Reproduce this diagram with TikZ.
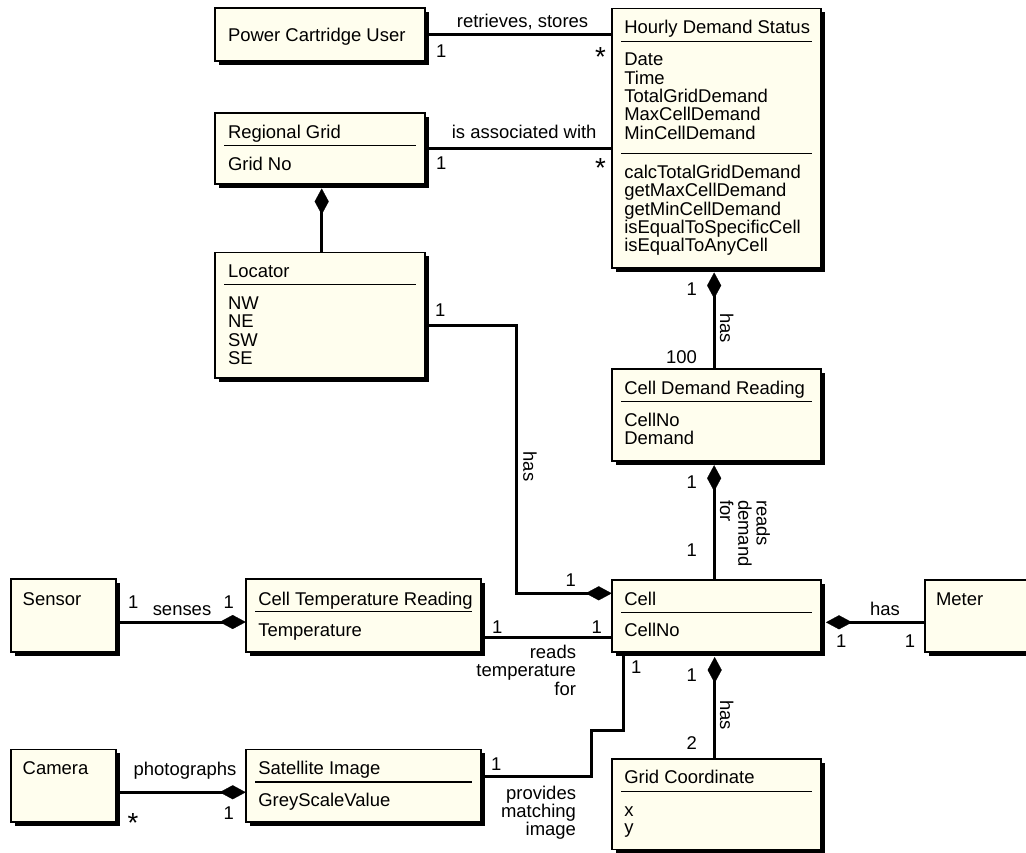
\documentclass[tikz,border=0pt]{standalone}
\usepackage{fontspec}
\setmainfont{Liberation Sans}
\usetikzlibrary{arrows.meta,shadows}
\definecolor{cream}{RGB}{255,254,238}
\newcommand\umlbox[5]{\node[umlbox, minimum width={(#4-#2)*0.5pt}, minimum height={(#5-#3)*0.5pt}] (#1) at (#2,#3) {};}
\newcommand\sepat[2]{\draw[sepline] ([shift={(9.3,#2)}]#1.north west) -- ([shift={(-9,#2)}]#1.north east);}
\tikzset{
  umlbox/.style={draw=black, line width=0.8pt, fill=cream, inner sep=0pt, outer sep=0pt, anchor=north west,
    drop shadow={shadow xshift=2pt, shadow yshift=-2pt, fill=black, opacity=1}},
  txt/.style={inner sep=0pt, outer sep=0pt, anchor=base west, font=\fontsize{9.23}{9.2}\selectfont},
  rtxt/.style={txt, anchor=base east},
  ctxt/.style={txt, anchor=base},
  star/.style={inner sep=0pt, outer sep=0pt, anchor=base, font=\fontsize{13.8}{14}\selectfont},
  vtxt/.style={txt, rotate=-90},
  conn/.style={line width=1.5pt},
  compend/.style={conn, -{Diamond[length=13pt,width=7pt,line width=0.1pt]}},
  compstart/.style={conn, {Diamond[length=13pt,width=7pt,line width=0.1pt]}-},
  sepline/.style={line width=0.6pt},
}
\begin{document}
\begin{tikzpicture}[x=0.5pt,y=-0.5pt]
\useasboundingbox (0,0) rectangle (1026,852);
\clip (0,0) rectangle (1026,852);

% boxes
\umlbox{pcu}{215}{8}{425}{60.7}
\umlbox{hds}{611.7}{8.3}{821}{268}
\umlbox{rg}{215}{113}{425}{184}
\umlbox{loc}{215}{252.3}{425}{378}
\umlbox{cdr}{611.7}{369}{821}{460.7}
\umlbox{sensor}{10.7}{579}{116}{652}
\umlbox{ctr}{245.7}{579}{480.7}{652}
\umlbox{cell}{611.7}{580}{821}{652}
\umlbox{meter}{925}{580}{1040}{652}
\umlbox{camera}{10.7}{749.3}{116}{822}
\umlbox{sat}{245.7}{749.3}{480.7}{822}
\umlbox{gc}{611.7}{759}{821}{849.5}

% separators
\sepat{hds}{33.4}
\sepat{hds}{145}
\sepat{rg}{32.3}
\sepat{loc}{32.3}
\sepat{cdr}{32.7}
\sepat{ctr}{32.7}
\sepat{cell}{32.3}
\sepat{sat}{32.7}
\sepat{gc}{32.3}

% box texts
\node[txt] (pcu-t) at (228,41) {Power Cartridge User};
\node[txt] (hds-t) at (624.3,33) {Hourly Demand Status};
\foreach \t [count=\i from 0] in {Date,Time,TotalGridDemand,MaxCellDemand,MinCellDemand}
  \node[txt] (hds-a\i) at (624.3,65.7+18.4*\i) {\t};
\foreach \t [count=\i from 0] in {calcTotalGridDemand,getMaxCellDemand,getMinCellDemand,isEqualToSpecificCell,isEqualToAnyCell}
  \node[txt] (hds-m\i) at (624.3,178.3+18.4*\i) {\t};
\node[txt] (rg-t) at (228,138) {Regional Grid};
\node[txt] (rg-a) at (228,170) {Grid No};
\node[txt] (loc-t) at (228,277.3) {Locator};
\foreach \t [count=\i from 0] in {NW,NE,SW,SE}
  \node[txt] (loc-a\i) at (228,309.5+18.4*\i) {\t};
\node[txt] (cdr-t) at (624.3,394) {Cell Demand Reading};
\node[txt] (cdr-a0) at (624.3,426.5) {CellNo};
\node[txt] (cdr-a1) at (624.3,444.9) {Demand};
\node[txt] (sensor-t) at (22.7,605) {Sensor};
\node[txt] (ctr-t) at (258.3,605) {Cell Temperature Reading};
\node[txt] (ctr-a) at (258.3,636.7) {Temperature};
\node[txt] (cell-t) at (624.3,605) {Cell};
\node[txt] (cell-a) at (624.3,636.7) {CellNo};
\node[txt] (meter-t) at (936,605) {Meter};
\node[txt] (camera-t) at (22.7,774.3) {Camera};
\node[txt] (sat-t) at (258.3,774.3) {Satellite Image};
\node[txt] (sat-a) at (258.3,806.7) {GreyScaleValue};
\node[txt] (gc-t) at (624.3,783.5) {Grid Coordinate};
\node[txt] (gc-a0) at (624.3,816.7) {x};
\node[txt] (gc-a1) at (624.3,833.5) {y};

% connectors
\draw[conn] (pcu.east) -- (pcu.east -| hds.west);
\draw[conn] (rg.east) -- (rg.east -| hds.west);
\draw[compstart] ([shift={(1.7,4.5)}]rg.south) -- ([shift={(1.7,0)}]loc.north);
\draw[compstart] ([shift={(-2.2,4.5)}]hds.south) -- ([shift={(-2.2,0)}]cdr.north);
\draw[compstart] ([shift={(-2.2,4.5)}]cdr.south) -- ([shift={(-2.2,0)}]cell.north);
\draw[compend] ([shift={(0,10)}]loc.east) -| ([shift={(-95,-22.7)}]cell.west) -- ([shift={(0,-22.7)}]cell.west);
\draw[compend] ([shift={(0,6.5)}]sensor.east) -- ([shift={(0,6.5)}]ctr.west);
\draw[conn] ([shift={(0,22)}]ctr.east) -- ([shift={(0,21.5)}]cell.west);
\draw[compstart] ([shift={(5,6.3)}]cell.east) -- ([shift={(0,6.3)}]meter.west);
\draw[compstart] ([shift={(-1.7,5)}]cell.south) -- ([shift={(-1.7,0)}]gc.north);
\draw[conn] ([shift={(0,-9.6)}]sat.east) -| ([shift={(-20,78)}]cell.south west) -| ([shift={(11.6,0)}]cell.south west);
\draw[compend] ([shift={(0,6.6)}]camera.east) -- ([shift={(0,6.6)}]sat.west);

% connector labels
\node[ctxt] (l-rs) at (522.5,27.3) {retrieves, stores};
\node[txt] (m-pcu) at (436,57.3) {1};
\node[star] (m-hds1) at (600.5,66.5) {*};
\node[ctxt] (l-iaw) at (524.2,138) {is associated with};
\node[txt] (m-rg) at (436,169.3) {1};
\node[star] (m-hds2) at (600.5,177.5) {*};

\node[rtxt] (m-hds3) at (697,295) {1};
\node[vtxt] (l-has1) at (720,313) {has};
\node[rtxt] (m-cdr1) at (697,363.3) {100};
\node[rtxt] (m-cdr2) at (697,488.3) {1};
\node[vtxt] (l-rd1) at (756.7,500) {reads};
\node[vtxt] (l-rd2) at (738.3,500) {demand};
\node[vtxt] (l-rd3) at (720,500) {for};
\node[rtxt] (m-cell1) at (697,556.7) {1};

\node[txt] (m-loc) at (435,316.7) {1};
\node[vtxt] (l-has2) at (523.3,451.7) {has};
\node[rtxt] (m-cell2) at (576,586) {1};

\node[txt] (m-sensor) at (128,608.3) {1};
\node[ctxt] (l-senses) at (182,615) {senses};
\node[rtxt] (m-ctr1) at (234,608.3) {1};

\node[txt] (m-ctr2) at (492,633.3) {1};
\node[rtxt] (m-cell3) at (602,633.3) {1};
\node[rtxt] (l-rt1) at (576,658.3) {reads};
\node[rtxt] (l-rt2) at (576,676.8) {temperature};
\node[rtxt] (l-rt3) at (576,695.2) {for};

\node[ctxt] (l-has3) at (885,615) {has};
\node[txt] (m-cell4) at (836,647.3) {1};
\node[rtxt] (m-meter) at (915,647.3) {1};

\node[rtxt] (m-cell5) at (697,681) {1};
\node[vtxt] (l-has4) at (720,700) {has};
\node[rtxt] (m-gc) at (697,749.3) {2};

\node[txt] (m-cell6) at (631,673.3) {1};
\node[txt] (m-sat1) at (491,770) {1};
\node[rtxt] (l-pm1) at (576,799) {provides};
\node[rtxt] (l-pm2) at (576,817.4) {matching};
\node[rtxt] (l-pm3) at (576,835.8) {image};

\node[ctxt] (l-photo) at (185,775) {photographs};
\node[star] (m-camera) at (133,832.5) {*};
\node[rtxt] (m-sat2) at (234,819.3) {1};
\end{tikzpicture}
\end{document}
